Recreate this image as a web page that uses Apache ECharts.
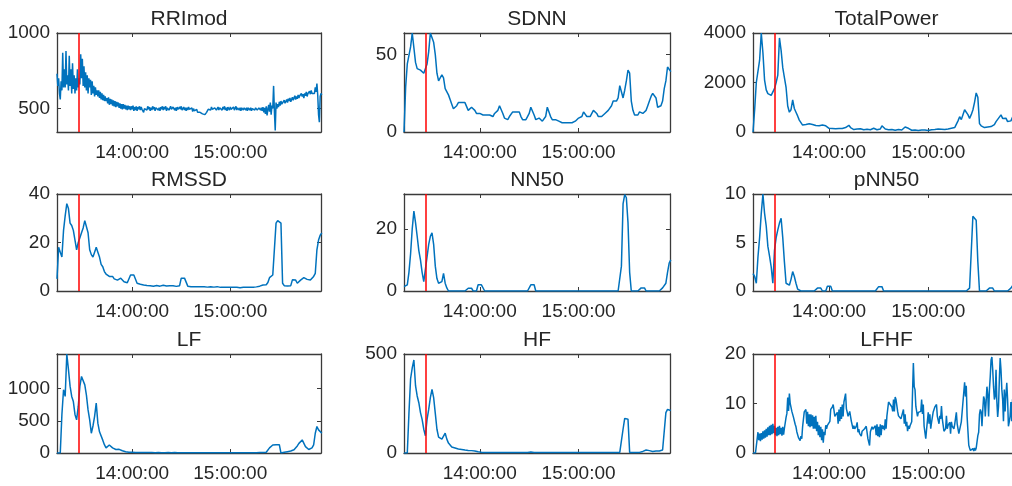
<!DOCTYPE html>
<html><head><meta charset="utf-8">
<script src="https://cdn.jsdelivr.net/npm/echarts@6/dist/echarts.min.js"></script>
<style>html,body{margin:0;padding:0;background:#fff;overflow:hidden;width:1012px;height:486px}#c{width:1030px;height:486px}</style>
</head><body><div id="c"></div>
<script>
// ---- data (time in minutes since midnight) ----
const startMinute = 794;          // 13:14:00, first sample
const xMin = 794, xMax = 955.5;   // 13:14:00 .. 15:55:30
const timeTicks = [840, 900];     // 14:00:00, 15:00:00
const redLineTime = [807];        // marker at 13:27:00

const titles = ['RRImod','SDNN','TotalPower','RMSSD','NN50','pNN50','LF','HF','LFHF'];
const sampleSteps = [0.5, 1, 1, 1, 1, 1, 1, 1, 0.5];
const yMins = [345, 0, 0, 0, 0, 0, 0, 0, 0];
const yMaxs = [1000, 64, 4000, 40, 31.2, 10, 1540, 500, 20];
const yTickValues = [[500,1000],[0,50],[0,2000,4000],[0,20,40],[0,20],[0,5,10],[0,500,1000],[0,500],[0,10,20]];

const rriMod = [
730,650,700,600,560,680,620,870,640,760,
640,880,660,720,620,850,650,760,600,800,
630,720,600,700,620,760,640,700,660,860,
700,830,650,780,640,740,620,720,600,700,
640,690,590,680,600,650,580,640,590,620,
580,620,570,610,560,600,555,590,550,580,
550,570,535,575,525,565,530,560,520,555,
515,550,510,545,515,540,505,535,500,530,
495,530,500,525,495,520,490,520,495,515,
490,515,495,520,485,510,490,515,485,510,
495,515,490,510,495,485,475,500,510,495,
490,515,495,510,485,505,490,515,495,510,
485,505,500,515,490,505,485,510,495,515,
490,510,495,515,485,505,510,490,495,515,
495,490,510,515,490,505,485,510,495,490,
510,495,515,490,495,510,490,505,485,505,
490,510,495,490,485,505,480,500,485,485,
480,495,475,480,475,475,470,470,465,465,
460,460,455,475,475,495,490,505,490,510,
495,500,500,505,505,490,495,510,490,505,
510,495,490,510,495,515,490,505,485,510,
505,490,510,495,485,505,510,490,495,515,
490,505,510,490,505,485,505,510,490,505,
510,490,505,485,505,510,490,505,485,500,
495,510,490,505,515,490,485,505,510,490,
505,485,510,475,505,465,515,455,495,525,
480,540,460,520,500,650,480,355,540,500,
530,510,545,520,550,530,540,525,555,535,
545,560,540,565,550,570,545,560,575,555,
570,585,560,580,565,590,570,585,575,600,
580,595,570,600,585,610,580,600,590,615,
595,620,600,610,590,600,640,610,665,590,
460,410,580,600,590];

const sdnn = [
0,29,44,45,55,64,64,45,41,40,
40,39,38,39,44,52,64,64,58,50,
38,33,34,37,35,28,27,24,21,18,
15,14,17,19,20,19,20,19,18,14,
15,16,16,14,12,11,12,11,11,10,
11,10,11,11,10,12,11,14,17,16,
12,9,8,8,10,11,13,14,13,12,
13,10,8,7,8,10,12,16,16,11,
8,8,9,8,7,7,10,16,15,10,
8,7,8,9,7,6,6,7,6,7,
6,5,6,7,7,8,9,8,10,13,
12,10,9,10,11,14,15,12,10,9,
10,11,12,12,14,15,17,20,21,20,
22,30,26,22,27,33,40,38,20,14,
11,10,11,13,13,12,12,14,17,20,
23,25,26,22,16,15,17,20,28,33,
42,41,39];

const totalPower = [
0,900,2000,2050,2900,4000,3200,2100,1700,1550,
1500,1480,1450,1750,2000,2300,3800,3300,2600,2200,
1800,1050,800,900,1300,950,800,650,480,400,
280,260,300,280,330,410,300,250,260,240,
250,230,280,360,250,170,150,130,140,120,
130,150,140,130,140,160,180,200,270,180,
120,100,110,120,180,130,100,90,100,110,
100,90,110,150,120,90,100,120,250,180,
120,100,90,80,100,90,70,80,100,90,
80,130,200,230,150,100,70,60,80,70,
60,70,80,100,80,70,60,80,90,110,
100,80,120,90,110,130,100,140,120,110,
150,200,180,250,450,620,500,700,900,960,
700,550,700,890,1200,1580,1400,340,250,200,
180,150,200,170,220,260,300,420,480,600,
690,550,480,560,420,380,450,600,550,500,
700,850,800];

const rmssd = [
5,18,16,14,25,31,36,34,28,27,
25,21,17,20,22,24,26,29,29,24,
17,15,14,16,18,16,14,11,10,8,
7,6.5,6,6,6,5,4.6,4.5,4.8,5.3,
5,3.8,3.5,3.4,3.5,6.6,6.6,6.6,6.6,3.2,
3,2.8,2.6,2.5,2.4,2.3,2.4,2.2,2.1,2.0,
2.2,2.3,2.1,2.0,2.2,2.4,2.3,2.1,2.0,2.2,
2.3,2.2,2.0,1.9,2.0,2.2,5.3,5.3,5.3,5.0,
2.0,1.8,1.8,1.9,1.8,1.7,1.8,1.9,1.8,1.7,
1.8,1.7,1.6,1.7,1.8,1.7,1.6,1.7,1.8,1.6,
1.5,1.6,1.5,1.4,1.5,1.6,1.5,1.4,1.5,1.4,
1.5,1.4,1.3,1.4,1.5,1.4,1.5,1.6,1.5,1.4,
1.5,1.6,1.7,1.8,2.0,2.2,2.5,2.5,2.6,3.5,
5.5,6,6.6,7,28,29,29,28,3.2,2.2,
2.0,2.1,2.0,2.2,4.6,4.8,4.5,3.2,3.5,4.5,
5.3,5.5,5.2,4.8,4.6,4.5,4.8,6.0,7.3,17,
21,23,24];

const nn50 = [
1.4,1.5,2,6,12,20,25.7,22,17.6,13,
10,6,3,2.5,11,15,17.6,18.7,15,8,
4,2.5,2,3,5.7,2.5,1,0,0,0,
0,0,0,0,0,0,0,0,0,0.9,
0.9,0.9,0,0,0,2,2,2,2,0,
0,0,0,0,0,0,0,0,0,0,
0,0,0,0,0,0,0,0,0,0,
0,0,0,0,0,0,0,2,2,2,
0,0,0,0,0,0,0,0,0,0,
0,0,0,0,0,0,0,0,0,0,
0,0,0,0,0,0,0,0,0,0,
0,0,0,0,0,0,0,0,0,0,
0,0,0,0,0,0,0,0,0,0,
0,0,8,28,31,30,22,6,0,0,
0,0,0,0,1,1,1,0,0,0,
0,0,0,0,0,0,0,1,1.5,2.5,
6,9,10];

const pnn50 = [
1.8,1.5,0.8,3.5,5.5,8,10,8,6.7,4.6,
3.6,2.5,0.8,4.2,5.5,6.3,7,7.5,5.5,3,
0.8,0.7,0.6,1.2,2,1.5,0.8,0.2,0,0,
0,0,0,0,0,0,0,0,0,0.3,
0.3,0.3,0,0,0,0.5,0.5,0.5,0,0,
0,0,0,0,0,0,0,0,0,0,
0,0,0,0,0,0,0,0,0,0,
0,0,0,0,0,0,0.45,0.45,0.45,0,
0,0,0,0,0,0,0,0,0,0,
0,0,0,0,0,0,0,0,0,0,
0,0,0,0,0,0,0,0,0,0,
0,0,0,0,0,0,0,0,0,0,
0,0,0,0,0,0,0,0,0,0,
0,0.3,4,7.7,7.5,7.3,3,0,0,0,
0,0,0,0.3,0.3,0.3,0,0,0,0,
0,0,0,0,0,0.2,0.3,0.5,0.8,1.5,
3,5,6];

const lf = [
0,0,0,600,985,880,1540,1300,1040,880,
800,600,515,724,1040,1190,1190,1060,900,670,
515,307,420,570,776,464,330,307,200,130,
80,100,125,110,80,57,55,57,57,50,
35,30,20,15,12,10,10,12,8,10,
8,10,8,6,8,5,6,8,6,5,
4,5,6,5,4,5,4,5,6,5,
4,5,6,4,5,4,3,5,4,5,
4,3,4,5,4,3,4,3,4,3,
4,3,2,3,4,3,2,3,2,3,
2,3,2,3,2,3,4,3,2,3,
3,4,3,4,5,4,3,4,5,4,
5,6,5,6,8,6,8,10,12,30,
80,100,125,120,130,150,130,0,5,10,
15,20,25,30,35,50,73,110,150,177,
203,180,100,70,55,47,80,125,307,412,
360,333,307];

const hf = [
0,0,0,200,375,430,470,340,288,254,
204,170,120,87,170,220,280,321,280,200,
120,80,70,70,80,100,70,50,40,30,
28,25,22,20,20,18,16,15,14,13,
13,12,12,10,8,6,5,4,3,3,
3,2,3,2,3,2,2,3,2,2,
2,3,2,2,3,2,2,2,3,2,
2,2,3,2,2,3,4,5,4,3,
2,2,2,3,2,2,2,2,3,2,
2,2,2,2,2,3,2,2,2,2,
2,2,2,2,3,2,2,2,2,2,
2,2,2,3,2,2,2,2,2,3,
2,2,3,2,2,3,2,3,3,3,
3,3,3,120,175,179,170,3,3,3,
3,3,3,3,5,8,10,15,17,12,
10,8,7,10,12,10,8,15,20,204,
220,220,215];

const lfhf = [
0,0,0,0,0,0,4.2,2.6,3.9,2.4,
4.0,2.7,4.4,2.9,4.6,3.1,4.9,3.3,5.2,3.6,
5.5,3.6,5.7,3.8,5.9,4.0,5.5,3.6,5.1,3.4,
5.3,3.6,5.5,3.8,5.1,3.5,5.3,3.7,5.0,5.0,
7.2,8.0,11.2,8.5,12.0,10.0,9.2,8.4,8.2,7.2,
6.8,5.8,5.3,4.3,4.2,3.1,3.5,2.5,3.4,2.9,
5.3,5.4,8.3,8.4,8.8,5.9,8.3,5.4,7.8,5.2,
7.8,5.4,7.6,4.9,7.3,4.9,7.5,4.4,6.3,3.6,
5.6,3.2,5.3,2.6,4.8,2.1,4.3,3.6,5.6,4.9,
5.6,5.4,6.0,6.4,8.8,8.9,9.3,9.8,9.8,7.4,
7.8,7.4,8.2,5.9,8.8,6.4,9.3,6.9,9.8,7.4,
10.3,9.9,12.0,8.9,8.2,7.4,7.8,8.4,8.8,6.4,
6.8,4.9,5.5,4.9,5.3,5.4,6.2,4.2,4.8,3.9,
4.2,3.4,4.4,4.1,4.8,4.9,5.3,5.4,5.8,2.9,
3.3,1.5,4.3,4.4,5.3,4.8,4.8,4.4,5.5,3.6,
5.8,3.4,5.3,3.2,5.8,3.6,5.6,4.9,5.5,4.6,
6.8,4.9,7.5,7.4,10.3,10.2,9.8,9.4,9.3,8.4,
10.8,8.4,11.3,10.8,10.8,8.4,7.5,7.4,7.8,6.9,
7.3,6.9,8.8,5.9,7.8,5.4,6.3,4.4,5.5,4.9,
5.5,5.4,6.3,5.9,18.2,13.4,12.8,9.4,9.8,7.4,
8.2,7.9,8.2,8.4,10.8,7.9,9.8,5.4,5.8,2.9,
4.8,4.4,8.2,5.9,7.8,4.9,6.2,5.9,8.3,8.4,
9.3,9.4,9.8,7.4,7.8,5.9,7.5,6.9,9.5,6.9,
6.8,4.4,4.8,4.9,7.5,4.9,5.6,5.4,6.2,3.9,
6.3,5.4,5.5,4.9,5.8,5.9,8.2,5.9,6.3,3.9,
4.2,3.9,6.3,6.4,10.3,10.4,14.3,11.4,13.6,7.4,
4.5,1.6,1.0,0.5,0.9,0.4,0.9,0.4,1.0,0.5,
1.0,1.2,3.5,4.2,7.8,8.8,8.3,5.4,8.8,11.4,
10.8,7.4,10.3,13.4,11.8,7.4,12.8,15.4,18.8,19.4,
16.8,13.4,10.8,11.4,16.8,10.4,7.3,9.4,14.8,19.2,
16.8,12.9,10.8,6.4,12.8,8.4,11.8,14.2,10.8,5.4,
6.3,7.4,10.3,6.4,10.8,11.4,9.8,6.4,10.8,7.4,
9.8,6.9,9.3,9.4,9.8];

const seriesValues = [rriMod, sdnn, totalPower, rmssd, nn50, pnn50, lf, hf, lfhf];

// ---- layout / style ----
const colLeft = [57, 404, 753];
const colWidth = [264, 266, 267];
const rowTop = [33, 194, 354];
const rowHeight = [99, 97, 99];
const inkColor = '#262626';
const boxColor = '#3a3a3a';
const lineColor = '#0072BD';
const font = 'Liberation Sans, Arial, sans-serif';

function fmtTime(v) {
  const h = Math.floor(v / 60), m = Math.round(v - h * 60);
  return h + ':' + String(m).padStart(2, '0') + ':00';
}

const option = { animation: false, title: [], grid: [], xAxis: [], yAxis: [], series: [] };

titles.forEach((name, k) => {
  const r = Math.floor(k / 3), c = k % 3;
  option.grid.push({ left: colLeft[c], top: rowTop[r], width: colWidth[c], height: rowHeight[r], containLabel: false });
  option.title.push({
    text: name, left: colLeft[c] + colWidth[c] / 2, top: rowTop[r] - 24, textAlign: 'center', padding: 0,
    textStyle: { fontFamily: font, fontSize: 21, fontWeight: 'normal', color: inkColor }
  });
  const axisLine = { show: true, onZero: false, lineStyle: { color: boxColor, width: 1.3 } };
  option.xAxis.push({
    type: 'value', gridIndex: k, min: xMin, max: xMax, position: 'bottom',
    axisLine, splitLine: { show: false },
    axisTick: { show: true, inside: true, length: 4, customValues: timeTicks, lineStyle: { color: boxColor } },
    axisLabel: { show: true, customValues: timeTicks, formatter: fmtTime, margin: 11,
      fontFamily: font, fontSize: 19, color: inkColor }
  });
  option.xAxis.push({
    type: 'value', gridIndex: k, min: xMin, max: xMax, position: 'top',
    axisLine, splitLine: { show: false },
    axisTick: { show: true, inside: true, length: 4, customValues: timeTicks, lineStyle: { color: boxColor } },
    axisLabel: { show: false }
  });
  option.yAxis.push({
    type: 'value', gridIndex: k, min: yMins[k], max: yMaxs[k], position: 'left',
    axisLine, splitLine: { show: false },
    axisTick: { show: true, inside: true, length: 4, customValues: yTickValues[k], lineStyle: { color: boxColor } },
    axisLabel: { show: true, customValues: yTickValues[k], formatter: v => String(v), margin: 7,
      fontFamily: font, fontSize: 19, color: inkColor }
  });
  option.yAxis.push({
    type: 'value', gridIndex: k, min: yMins[k], max: yMaxs[k], position: 'right',
    axisLine, splitLine: { show: false },
    axisTick: { show: true, inside: true, length: 4, customValues: yTickValues[k], lineStyle: { color: boxColor } },
    axisLabel: { show: false }
  });
  const step = sampleSteps[k];
  option.series.push({
    type: 'line', xAxisIndex: 2 * k, yAxisIndex: 2 * k,
    data: seriesValues[k].map((v, i) => [startMinute + i * step, v]),
    showSymbol: false, symbol: 'none', clip: true,
    lineStyle: { color: lineColor, width: 1.5 },
    markLine: {
      silent: true, symbol: ['none', 'none'], label: { show: false },
      lineStyle: { color: '#FF0000', width: 1.5, type: 'solid' },
      data: redLineTime.map(t => ({ xAxis: t }))
    }
  });
});

const chart = echarts.init(document.getElementById('c'), null, { renderer: 'canvas' });
chart.setOption(option);
</script></body></html>
